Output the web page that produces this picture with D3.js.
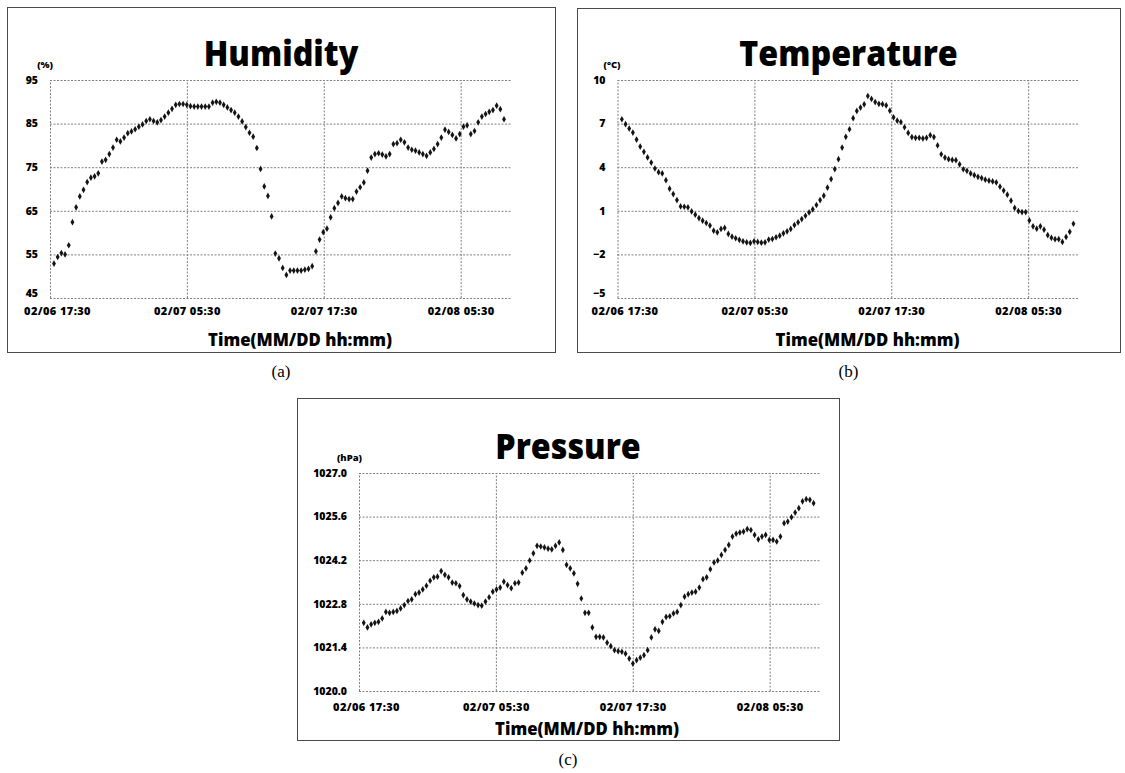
<!DOCTYPE html>
<html>
<head>
<meta charset="utf-8">
<script src="https://cdn.jsdelivr.net/npm/d3@7"></script>
<style>
  html, body { margin: 0; padding: 0; background: #fff; }
  svg { display: block; }
  text { font-family: "Open Sans", "Noto Sans", "DejaVu Sans", sans-serif; }
  .caption { font-family: "Liberation Serif", "DejaVu Serif", serif; }
</style>
</head>
<body>
<svg id="chart" width="1125" height="773"></svg>
<script>
// ---- data -------------------------------------------------------------
const axisStart = "02/06 17:30";
const axisEnd = "02/08 10:00";
const timeTicks = ["02/06 17:30", "02/07 05:30", "02/07 17:30", "02/08 05:30"];

const humidityTicks = [45, 55, 65, 75, 85, 95];
const temperatureTicks = [-5, -2, 1, 4, 7, 10];
const pressureTicks = [1020.0, 1021.4, 1022.8, 1024.2, 1025.6, 1027.0];

// first and last logged sample of each series (readings are evenly spaced)
const humiditySpan = ["02/06 17:51", "02/08 09:18"];
const temperatureSpan = ["02/06 17:53", "02/08 09:28"];
const pressureSpan = ["02/06 17:55", "02/08 09:21"];

// relative humidity, %
const humidityValues = [
  52.9, 54.4, 55.3, 55.0, 57.1, 62.4, 65.8, 68.3, 69.8, 71.6,
  72.6, 72.9, 73.6, 76.3, 76.7, 78.0, 79.5, 81.3, 80.9, 81.8,
  82.8, 83.2, 83.7, 84.3, 84.8, 85.6, 86.0, 85.6, 85.3, 85.8,
  86.6, 87.5, 88.4, 89.3, 89.5, 89.5, 89.3, 89.0, 88.9, 88.9,
  88.9, 88.9, 88.9, 89.8, 90.0, 89.8, 89.3, 88.7, 88.1, 87.5,
  86.6, 85.5, 84.2, 82.9, 82.0, 79.4, 74.6, 70.6, 68.4, 63.7,
  55.2, 54.1, 51.9, 50.3, 51.3, 51.3, 51.3, 51.3, 51.5, 51.7,
  52.3, 55.7, 58.4, 60.1, 60.9, 63.5, 65.6, 66.8, 68.3, 67.9,
  67.7, 67.7, 69.4, 70.4, 71.5, 74.2, 77.2, 78.0, 78.2, 77.9,
  77.5, 78.0, 80.3, 80.5, 81.3, 80.7, 79.5, 79.0, 78.8, 78.4,
  78.0, 77.6, 78.4, 79.2, 80.3, 81.8, 83.6, 83.1, 82.4, 81.6,
  82.6, 84.3, 84.6, 82.6, 83.3, 85.3, 86.6, 87.2, 87.7, 88.1,
  89.1, 88.3, 86.0
];

// air temperature, °C
const temperatureValues = [
  7.30, 6.96, 6.66, 6.38, 5.90, 5.42, 5.06, 4.67, 4.32, 3.91,
  3.66, 3.57, 3.11, 2.52, 2.15, 1.74, 1.30, 1.28, 1.24, 0.96,
  0.73, 0.50, 0.32, 0.16, -0.02, -0.37, -0.48, -0.25, -0.18, -0.59,
  -0.78, -0.89, -1.00, -1.10, -1.17, -1.21, -1.10, -1.14, -1.19, -1.17,
  -0.98, -0.94, -0.82, -0.71, -0.55, -0.41, -0.25, 0.02, 0.21, 0.43,
  0.66, 0.89, 1.10, 1.40, 1.74, 2.04, 2.60, 3.18, 3.87, 4.55,
  5.35, 6.09, 6.61, 7.37, 7.87, 8.10, 8.33, 8.90, 8.70, 8.48,
  8.36, 8.34, 8.25, 7.89, 7.43, 7.20, 7.11, 6.75, 6.36, 6.07,
  6.02, 6.02, 5.98, 6.02, 6.20, 6.07, 5.50, 4.89, 4.66, 4.55,
  4.50, 4.48, 4.20, 3.86, 3.75, 3.57, 3.45, 3.34, 3.25, 3.14,
  3.07, 3.02, 2.95, 2.66, 2.39, 2.11, 1.70, 1.20, 0.98, 0.91,
  0.91, 0.34, -0.07, -0.23, -0.07, -0.30, -0.68, -0.86, -0.95, -0.95,
  -1.14, -0.80, -0.45, 0.11
];

// barometric pressure, hPa
const pressureValues = [
  1022.19, 1022.04, 1022.14, 1022.19, 1022.22, 1022.33, 1022.54, 1022.51, 1022.54, 1022.57,
  1022.65, 1022.76, 1022.89, 1022.94, 1023.11, 1023.16, 1023.26, 1023.38, 1023.54, 1023.65,
  1023.67, 1023.85, 1023.73, 1023.65, 1023.48, 1023.46, 1023.37, 1023.08, 1022.94, 1022.87,
  1022.81, 1022.76, 1022.74, 1022.87, 1023.01, 1023.19, 1023.26, 1023.32, 1023.51, 1023.40,
  1023.30, 1023.46, 1023.48, 1023.80, 1023.94, 1024.19, 1024.42, 1024.66, 1024.64, 1024.61,
  1024.57, 1024.55, 1024.66, 1024.77, 1024.53, 1024.05, 1023.94, 1023.78, 1023.44, 1022.97,
  1022.51, 1022.51, 1022.04, 1021.74, 1021.74, 1021.72, 1021.55, 1021.44, 1021.31, 1021.28,
  1021.26, 1021.20, 1021.04, 1020.88, 1020.99, 1021.07, 1021.15, 1021.31, 1021.72, 1021.98,
  1021.93, 1022.22, 1022.38, 1022.40, 1022.49, 1022.54, 1022.76, 1023.03, 1023.11, 1023.16,
  1023.19, 1023.32, 1023.59, 1023.65, 1023.91, 1024.13, 1024.19, 1024.37, 1024.53, 1024.69,
  1024.96, 1025.05, 1025.09, 1025.12, 1025.20, 1025.17, 1025.01, 1024.87, 1024.96, 1025.01,
  1024.85, 1024.85, 1024.80, 1024.96, 1025.39, 1025.44, 1025.58, 1025.73, 1025.87, 1026.09,
  1026.16, 1026.14, 1026.03
];

// ---- layout -----------------------------------------------------------
const plotWidth = 462;
const plotHeight = 218;

const panels = [
  {
    title: "Humidity", unit: "(%)", caption: "(a)",
    values: humidityValues, span: humiditySpan, ticks: humidityTicks,
    format: d3.format("d"),
    box: [7, 7, 555, 352], left: 50, top: 80, labelPad: 9, lowLabelLift: 5, titleGap: 48
  },
  {
    title: "Temperature", unit: "(°C)", caption: "(b)",
    values: temperatureValues, span: temperatureSpan, ticks: temperatureTicks,
    format: d3.format("d"),
    box: [577, 8, 1120, 352], left: 617.5, top: 80, labelPad: 9, lowLabelLift: 5, titleGap: 48
  },
  {
    title: "Pressure", unit: "(hPa)", caption: "(c)",
    values: pressureValues, span: pressureSpan, ticks: pressureTicks,
    format: d3.format(".1f"),
    box: [297, 398, 839, 740], left: 359, top: 473, labelPad: 12, lowLabelLift: 0, titleGap: 44
  }
];

// ---- drawing ----------------------------------------------------------
const parseTime = d3.timeParse("%m/%d %H:%M");
const formatTime = d3.timeFormat("%m/%d %H:%M");
const svg = d3.select("#chart");

function sampleTimes(n, span) {
  const t0 = parseTime(span[0]).getTime();
  const t1 = parseTime(span[1]).getTime();
  return d3.range(n).map(i => new Date(t0 + (t1 - t0) * i / (n - 1)));
}

function drawPanel(p) {
  const g = svg.append("g");
  const [bx0, by0, bx1, by1] = p.box;
  const cx = (bx0 + bx1) / 2;
  const bottom = p.top + plotHeight;

  g.append("rect")
    .attr("x", bx0 + 0.5).attr("y", by0 + 0.5)
    .attr("width", bx1 - bx0).attr("height", by1 - by0)
    .attr("fill", "#fff").attr("stroke", "#4a4a4a").attr("stroke-width", 1);

  const x = d3.scaleTime()
    .domain([parseTime(axisStart), parseTime(axisEnd)])
    .range([p.left, p.left + plotWidth]);
  const y = d3.scaleLinear()
    .domain(d3.extent(p.ticks))
    .range([bottom, p.top]);

  // horizontal gridlines + value labels
  const yAxis = g.append("g")
    .attr("transform", `translate(${p.left},0)`)
    .call(d3.axisLeft(y).tickValues(p.ticks).tickSize(-plotWidth)
      .tickPadding(12).tickFormat(p.format));
  yAxis.select(".domain").remove();
  yAxis.selectAll(".tick line")
    .attr("stroke", "#808080").attr("stroke-dasharray", "2,1.5");
  yAxis.selectAll(".tick text")
    .attr("font-size", 10.5).attr("font-weight", 800).attr("fill", "#000")
    // the lowest value label sits just above the time labels
    .attr("transform", (d, i) => i === 0 ? `translate(0,${-p.lowLabelLift})` : null);

  // vertical gridlines + time labels
  const xAxis = g.append("g")
    .attr("transform", `translate(0,${bottom})`)
    .call(d3.axisBottom(x).tickValues(timeTicks.map(parseTime))
      .tickSize(-plotHeight).tickPadding(p.labelPad).tickFormat(formatTime));
  xAxis.select(".domain").remove();
  xAxis.selectAll(".tick line")
    .attr("stroke", "#808080").attr("stroke-dasharray", "2,1.5");
  xAxis.selectAll(".tick text")
    .attr("font-size", 11).attr("font-weight", 800).attr("fill", "#000")
    .attr("letter-spacing", 0.4)
    .attr("dx", (d, i) => i === 0 ? 7 : 0);

  // measurements
  const times = sampleTimes(p.values.length, p.span);
  g.append("g").selectAll("path")
    .data(p.values)
    .join("path")
    .attr("d", d3.symbol(d3.symbolDiamond, 13))
    .attr("transform", (d, i) => `translate(${x(times[i])},${y(d)})`)
    .attr("fill", "#141414");

  // chart title
  g.append("text")
    .attr("transform", `translate(${cx},${p.top - 14}) scale(0.895,1)`)
    .attr("text-anchor", "middle")
    .attr("font-size", 36).attr("font-weight", 800).attr("fill", "#000")
    .text(p.title);

  // unit label above the value axis
  g.append("text")
    .attr("x", p.left + 3).attr("y", p.top - 12)
    .attr("text-anchor", "end")
    .attr("font-size", 9.5).attr("font-weight", 800).attr("fill", "#000")
    .text(p.unit);

  // time axis title
  g.append("text")
    .attr("transform", `translate(${cx + 19},${bottom + p.titleGap}) scale(0.93,1)`)
    .attr("text-anchor", "middle")
    .attr("font-size", 18).attr("font-weight", 800).attr("fill", "#000")
    .text("Time(MM/DD hh:mm)");

  // panel caption
  g.append("text")
    .attr("class", "caption")
    .attr("x", cx).attr("y", by1 + 25)
    .attr("text-anchor", "middle")
    .attr("font-size", 17).attr("fill", "#000")
    .text(p.caption);
}

panels.forEach(drawPanel);
</script>
</body>
</html>
